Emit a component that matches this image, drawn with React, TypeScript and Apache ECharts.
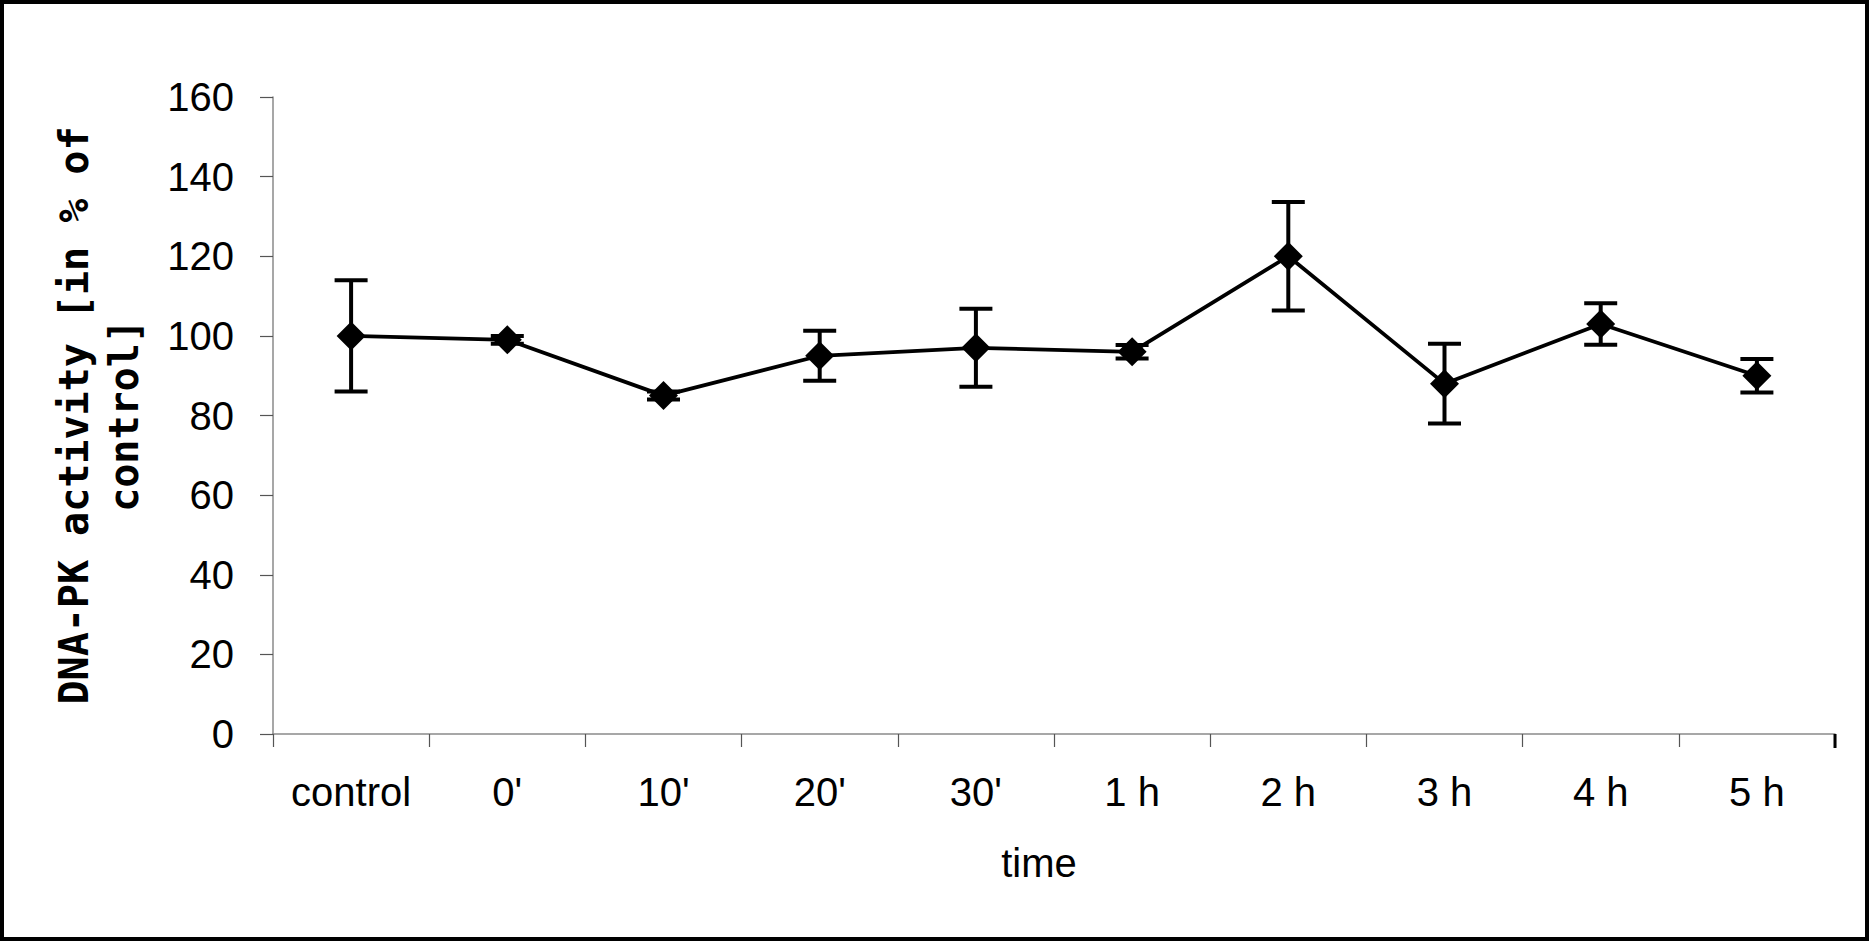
import React, { useEffect, useRef } from "react";
import * as echarts from "echarts";

const categories = ["control", "0'", "10'", "20'", "30'", "1 h", "2 h", "3 h", "4 h", "5 h"];
const activity = [100, 99, 85, 95, 97, 96, 120, 88, 103, 90];
const errors = [14, 1, 1, 6.3, 9.8, 1.7, 13.6, 10, 5.2, 4.2];
const yMin = 0;
const yMax = 160;
const yStep = 20;

const yTitle = "DNA-PK activity [in % of\ncontrol]";
const xTitle = "time";

export default function App() {
  const ref = useRef<HTMLDivElement>(null);

  useEffect(() => {
    if (!ref.current) return;
    const chart = echarts.init(ref.current, undefined, { renderer: "svg" });
    const errData = activity.map((v, i) => [i, v - errors[i], v + errors[i]]);
    const axisGray = "#8a8a8a";
    const gridLeft = 273;
    const gridRight = 36;
    const gridTop = 97;
    const gridBottom = 208;
    chart.setOption({
      animation: false,
      backgroundColor: "#ffffff",
      graphic: [
        {
          type: "rect",
          shape: { x: 2, y: 2, width: 1865, height: 937 },
          style: { fill: "none", stroke: "#000", lineWidth: 4 },
          z: 100,
        },
        {
          type: "rect",
          shape: { x: 1871 - gridRight - 1.5, y: 942 - gridBottom, width: 3, height: 14 },
          style: { fill: "#000" },
          z: 100,
        },
      ],
      grid: { left: gridLeft, right: gridRight, top: gridTop, bottom: gridBottom, containLabel: false },
      xAxis: {
        type: "category",
        data: categories,
        boundaryGap: true,
        axisLine: { show: true, lineStyle: { color: axisGray, width: 1.5 } },
        axisTick: { show: true, length: 13, lineStyle: { color: "#555", width: 1.2 } },
        axisLabel: {
          color: "#000",
          fontFamily: "Liberation Sans",
          fontSize: 40,
          margin: 38,
        },
        name: xTitle,
        nameLocation: "middle",
        nameGap: 109,
        nameTextStyle: {
          color: "#000",
          fontFamily: "Liberation Sans",
          fontSize: 40,
          padding: [0, 30, 0, 0],
        },
        splitLine: { show: false },
      },
      yAxis: {
        type: "value",
        min: yMin,
        max: yMax,
        interval: yStep,
        axisLine: { show: true, lineStyle: { color: axisGray, width: 1.5 } },
        axisTick: { show: true, length: 13, lineStyle: { color: "#555", width: 1.2 } },
        axisLabel: {
          color: "#000",
          fontFamily: "Liberation Sans",
          fontSize: 40,
          margin: 39,
        },
        splitLine: { show: false },
        name: yTitle,
        nameLocation: "middle",
        nameRotate: 90,
        nameGap: 124,
        nameTextStyle: {
          color: "#000",
          fontFamily: "DejaVu Sans Mono",
          fontWeight: "bold",
          fontSize: 40,
          lineHeight: 50,
          align: "center",
        },
      },
      series: [
        {
          type: "custom",
          z: 2,
          data: errData,
          renderItem: (params: any, api: any) => {
            const i = api.value(0);
            const lo = api.coord([i, api.value(1)]);
            const hi = api.coord([i, api.value(2)]);
            const half = 16.5;
            const style = { stroke: "#000", lineWidth: 4 };
            return {
              type: "group",
              children: [
                { type: "line", shape: { x1: lo[0], y1: lo[1], x2: hi[0], y2: hi[1] }, style },
                { type: "line", shape: { x1: hi[0] - half, y1: hi[1], x2: hi[0] + half, y2: hi[1] }, style },
                { type: "line", shape: { x1: lo[0] - half, y1: lo[1], x2: lo[0] + half, y2: lo[1] }, style },
              ],
            };
          },
        },
        {
          type: "line",
          z: 3,
          data: activity,
          symbol: "diamond",
          symbolSize: 29,
          showSymbol: true,
          lineStyle: { color: "#000", width: 3.8 },
          itemStyle: { color: "#000" },
        },
      ],
    });
    return () => chart.dispose();
  }, []);

  return (
    <div
      ref={ref}
      style={{ position: "fixed", left: 0, top: 0, width: 1871, height: 942 }}
    />
  );
}
